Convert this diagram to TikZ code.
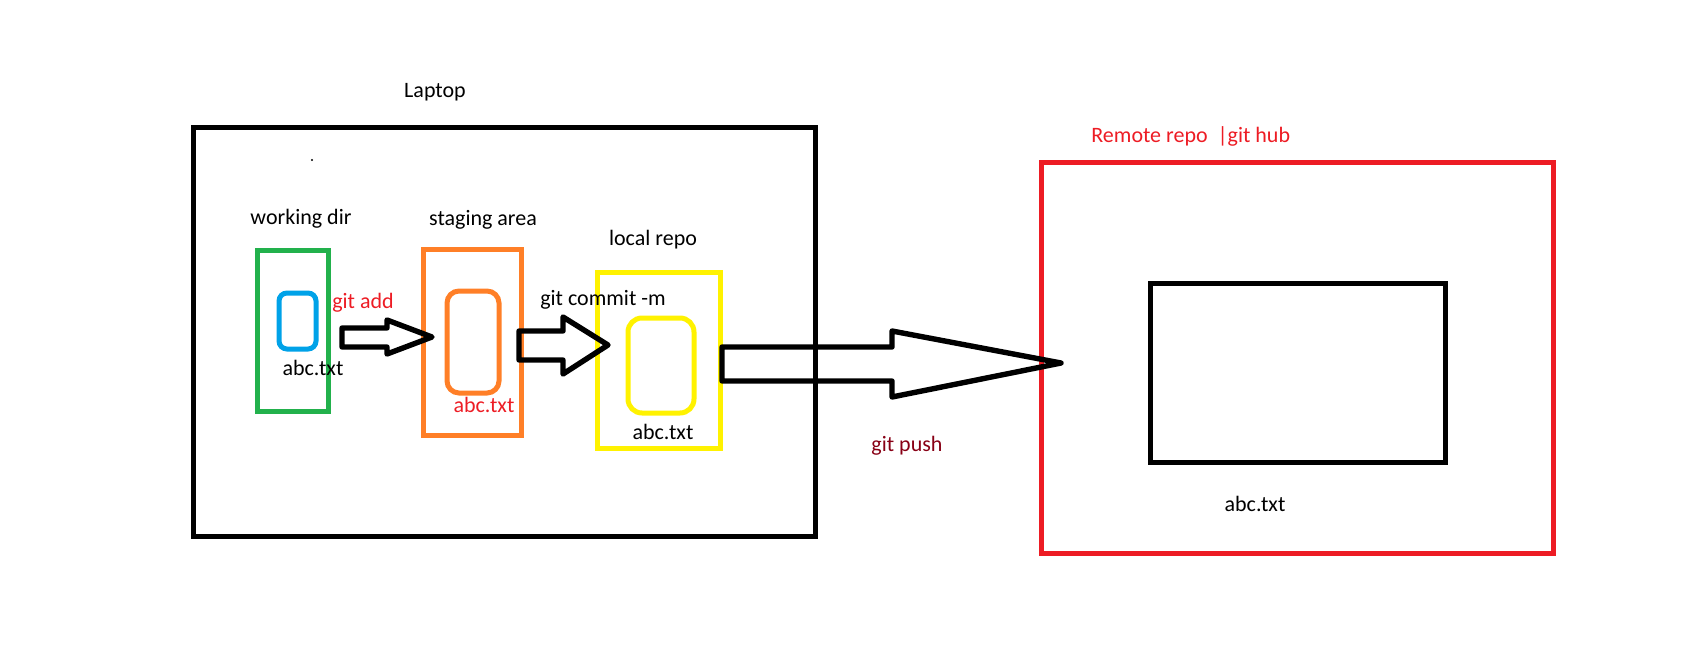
\documentclass[tikz,border=0pt]{standalone}
\usepackage{fontspec}
\setmainfont{Carlito}
\definecolor{paintgreen}{HTML}{22B14C}
\definecolor{paintblue}{HTML}{00A2E8}
\definecolor{paintorange}{HTML}{FF7F27}
\definecolor{paintyellow}{HTML}{FFF200}
\definecolor{paintred}{HTML}{ED1C24}
\definecolor{paintdarkred}{HTML}{880015}
\tikzset{
  lbl/.style={inner sep=0pt, font=\fontsize{11}{13}\selectfont},
  box/.style={line width=2.5pt},
  blockarrow/.style={line width=2.7pt, line join=round}
}
\begin{document}
\begin{tikzpicture}[x=0.5pt,y=-0.5pt]

\def\WORKCOLOR{paintgreen}
\def\FILECOLOR{paintblue}
\def\STAGECOLOR{paintorange}
\def\LOCALCOLOR{paintyellow}
\def\REMOTECOLOR{paintred}
	\useasboundingbox (0,0) rectangle (1682,648);
	\draw[box,black] (193,127) rectangle (815,536);
	\fill (312,160) circle (0.6pt);
	\draw[box,\WORKCOLOR] (257,250) rectangle (328,411);
	\draw[box,\FILECOLOR,rounded corners=4pt] (279,293) rectangle (316,349);
	\draw[box,\STAGECOLOR] (423,249) rectangle (521,435);
	\draw[box,\STAGECOLOR,rounded corners=6pt] (447,291) rectangle (499,393);
	\draw[box,\LOCALCOLOR] (597,272) rectangle (720,448);
	\draw[box,\LOCALCOLOR,rounded corners=7pt] (628,318) rectangle (694,413);
	\draw[box,\REMOTECOLOR] (1041,162) rectangle (1553,553);
	\draw[box,black] (1150,283) rectangle (1445,462);

	\draw[blockarrow] (342,328) -- (387,328) -- (387,320) -- (432,337) -- (387,354) -- (387,347) -- (342,347) -- cycle;
	\draw[blockarrow] (519,331) -- (563,331) -- (563,317) -- (608,345) -- (563,374) -- (563,360) -- (519,360) -- cycle;
	\draw[blockarrow] (722,347) -- (892,347) -- (892,331) -- (1061,363) -- (892,397) -- (892,381) -- (722,381) -- cycle;

	\node[lbl] (laptop) at (435,92) {Laptop};
	\node[lbl] (workdir) at (301,219) {working dir};
	\node[lbl] (stagearea) at (483,220) {staging area};
	\node[lbl] (localrepo) at (653,240) {local repo};
	\node[lbl] (workfile) at (313,368) {abc.txt};
	\node[lbl,text=paintred] (gitadd) at (363,303) {git add};
	\node[lbl,text=paintred] (stagefile) at (484,405) {abc.txt};
	\node[lbl] (gitcommit) at (603,300) {git commit -m};
	\node[lbl] (localfile) at (663,432) {abc.txt};
	\node[lbl,text=paintdarkred] (gitpush) at (907,446) {git push};
	\node[lbl,text=paintred,anchor=west] (remote) at (1091,136) {Remote repo~~|git hub};
	\node[lbl] (remotefile) at (1255,504) {abc.txt};

          \end{tikzpicture}
\end{document}
